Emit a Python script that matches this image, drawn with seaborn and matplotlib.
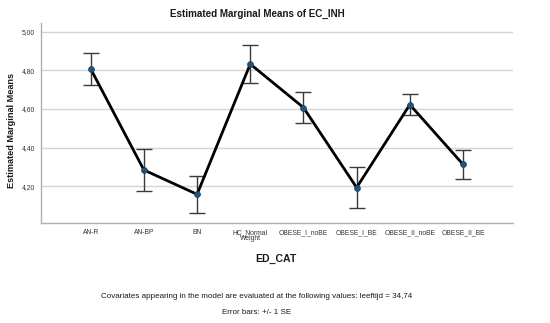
import matplotlib
matplotlib.use("Agg")
import matplotlib.pyplot as plt
import seaborn as sns
import pandas as pd
import numpy as np

categories = ["AN-R", "AN-BP", "BN", "HC_Normal\nWeight", "OBESE_I_noBE",
              "OBESE_I_BE", "OBESE_II_noBE", "OBESE_II_BE"]
means = [4.807, 4.284, 4.158, 4.832, 4.607, 4.193, 4.622, 4.313]
upper = [4.891, 4.395, 4.255, 4.931, 4.686, 4.297, 4.675, 4.387]
lower = [4.723, 4.174, 4.060, 4.733, 4.529, 4.087, 4.567, 4.236]
yticks = [4.20, 4.40, 4.60, 4.80, 5.00]
ytick_labels = ["4,20", "4,40", "4,60", "4,80", "5,00"]

sns.set_theme(style="white")
plt.rcParams['font.family'] = ['Liberation Sans', 'DejaVu Sans']

df = pd.DataFrame({"ED_CAT": categories, "mean": means})

W, H = 550, 323
fig = plt.figure(figsize=(W / 100, H / 100), dpi=100)
ax = fig.add_axes([40.7 / W, 1 - 223.3 / H, (513 - 40.7) / W, (223.3 - 22.7) / H])

ax.set_yticks(yticks)
ax.set_yticklabels(ytick_labels)
ax.grid(axis="y", color="#d4d4d4", linewidth=1.0)
ax.set_axisbelow(True)

pos = np.arange(len(categories))
m = np.array(means)
ax.errorbar(pos, m, yerr=[m - np.array(lower), np.array(upper) - m], fmt="none",
            ecolor="#3a3a3a", elinewidth=1.0, capsize=6, capthick=1.0, zorder=2)

sns.pointplot(data=df, x="ED_CAT", y="mean", ax=ax, color="black",
              linewidth=2.0, markers="", errorbar=None, zorder=3)
ax.scatter(pos, m, s=18, color="#24527a", zorder=4, edgecolor="#1d3f5e", linewidth=0.5)

ax.set_xlim(-0.94, 7.94)
ax.set_ylim(4.008, 5.046)

for s in ["top", "right"]:
    ax.spines[s].set_visible(False)
for s in ["left", "bottom"]:
    ax.spines[s].set_color("#b0b0b0")
    ax.spines[s].set_linewidth(1.0)

ax.tick_params(axis="both", length=0, labelsize=4.9, colors="#333333", pad=4)
for lbl in ax.get_xticklabels():
    lbl.set_linespacing(0.9)
ax.set_xlabel("")
ax.set_ylabel("")

fig.text(257 / W, 1 - 14 / H, "Estimated Marginal Means of EC_INH", ha="center", va="center",
         fontsize=7.1, fontweight="bold", color="#1a1a1a")
fig.text(12 / W, 1 - 130 / H, "Estimated Marginal Means", ha="center", va="center",
         rotation=90, fontsize=6.6, fontweight="bold", color="#1a1a1a")
fig.text(276 / W, 1 - 259 / H, "ED_CAT", ha="center", va="center",
         fontsize=7.6, fontweight="bold", color="#1a1a1a")
fig.text(257 / W, 1 - 296 / H,
         "Covariates appearing in the model are evaluated at the following values: leeftijd = 34,74",
         ha="center", va="center", fontsize=5.75, color="#1a1a1a")
fig.text(257 / W, 1 - 312 / H, "Error bars: +/- 1 SE", ha="center", va="center",
         fontsize=5.75, color="#1a1a1a")

fig.savefig("out.png", dpi=100)
